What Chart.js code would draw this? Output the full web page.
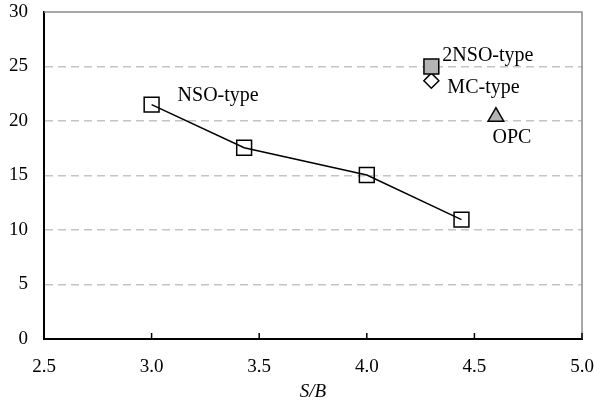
<!DOCTYPE html>
<html>
<head>
<meta charset="utf-8">
<script src="https://cdn.jsdelivr.net/npm/chart.js@4.4.1/dist/chart.umd.min.js"></script>
<style>
  html, body { margin: 0; padding: 0; background: #ffffff; }
  #wrap { width: 594px; height: 403px; position: relative; }
</style>
</head>
<body>
<div id="wrap"><canvas id="c" width="594" height="403"></canvas></div>
<script>
// ---- data ----
const seriesNames = ['NSO-type', '2NSO-type', 'MC-type', 'OPC'];
const nsoX = [3.0, 3.43, 4.0, 4.44];
const nsoY = [21.5, 17.55, 15.05, 10.95];
const nso2X = [4.3];
const nso2Y = [25.0];
const mcX = [4.3];
const mcY = [23.7];
const opcX = [4.6];
const opcY = [20.4];
const xTicks = [2.5, 3.0, 3.5, 4.0, 4.5, 5.0];
const yTicks = [0, 5, 10, 15, 20, 25, 30];
const xTitle = 'S/B';

const pts = (xs, ys) => xs.map((x, i) => ({ x: x, y: ys[i] }));

const FONT = "'Liberation Serif', 'Times New Roman', serif";

// label placement (pixel offsets from the anchor point)
const labelStyle = [
  { dx: 26, dy: -9, align: 'left' },
  { dx: 11, dy: -11, align: 'left' },
  { dx: 16, dy: 7, align: 'left' },
  { dx: 16, dy: 21, align: 'center' }
];

const framePlugin = {
  id: 'frame',
  beforeDatasetsDraw(chart) {
    const { ctx, chartArea: a } = chart;
    ctx.save();
    ctx.strokeStyle = '#8c8c8c';
    ctx.lineWidth = 1.5;
    ctx.beginPath();
    ctx.moveTo(a.left, a.top);
    ctx.lineTo(a.right, a.top);
    ctx.lineTo(a.right, a.bottom);
    ctx.stroke();
    ctx.restore();
  },
  afterDatasetsDraw(chart) {
    const { ctx, chartArea: a } = chart;
    const xs = chart.scales.x;
    ctx.save();
    // inward ticks on x axis
    ctx.strokeStyle = '#000';
    ctx.lineWidth = 1.5;
    xs.ticks.forEach(t => {
      const px = xs.getPixelForValue(t.value);
      ctx.beginPath();
      ctx.moveTo(px, a.bottom);
      ctx.lineTo(px, a.bottom - 6);
      ctx.stroke();
    });
    // series labels
    ctx.fillStyle = '#000';
    ctx.font = '20px ' + FONT;
    ctx.textBaseline = 'middle';
    chart.data.datasets.forEach((ds, i) => {
      const meta = chart.getDatasetMeta(i);
      const el = meta.data[0];
      const st = labelStyle[i];
      ctx.textAlign = st.align;
      ctx.fillText(ds.label, el.x + st.dx, el.y + st.dy);
    });
    ctx.restore();
  }
};

new Chart(document.getElementById('c'), {
  type: 'scatter',
  data: {
    datasets: [
      {
        label: seriesNames[0],
        data: pts(nsoX, nsoY),
        showLine: true,
        borderColor: '#000',
        borderWidth: 1.5,
        pointStyle: 'rect',
        pointRadius: 10.5,
        pointBorderWidth: 1.5,
        pointBorderColor: '#000',
        pointBackgroundColor: 'rgba(0,0,0,0)',
        order: 2
      },
      {
        label: seriesNames[1],
        data: pts(nso2X, nso2Y),
        pointStyle: 'rect',
        pointRadius: 10.5,
        pointBorderWidth: 1.5,
        pointBorderColor: '#000',
        pointBackgroundColor: '#b4b4b4',
        order: 0
      },
      {
        label: seriesNames[2],
        data: pts(mcX, mcY),
        pointStyle: 'rectRot',
        pointRadius: 7.5,
        pointBorderWidth: 1.5,
        pointBorderColor: '#000',
        pointBackgroundColor: '#fff',
        order: 1
      },
      {
        label: seriesNames[3],
        data: pts(opcX, opcY),
        pointStyle: 'triangle',
        pointRadius: 9,
        pointBorderWidth: 1.5,
        pointBorderColor: '#000',
        pointBackgroundColor: '#b4b4b4',
        order: 3
      }
    ]
  },
  options: {
    responsive: false,
    animation: false,
    layout: { padding: { top: 11, right: 10, bottom: 0, left: 0 } },
    plugins: {
      legend: { display: false },
      tooltip: { enabled: false }
    },
    scales: {
      x: {
        type: 'linear',
        min: xTicks[0],
        max: xTicks[xTicks.length - 1],
        afterBuildTicks(scale) { scale.ticks = xTicks.map(v => ({ value: v })); },
        afterFit(scale) { scale.height = 64; scale.paddingLeft = 0; scale.paddingRight = 0; },
        grid: { display: false, drawTicks: false },
        border: { display: true, color: '#000', width: 2 },
        ticks: {
          padding: 17,
          color: '#000',
          font: { family: FONT, size: 19 },
          callback: v => Number(v).toFixed(1)
        },
        title: {
          display: true,
          text: xTitle,
          color: '#000',
          font: { family: FONT, size: 19, style: 'italic' },
          padding: { top: 2, bottom: 0 }
        }
      },
      y: {
        type: 'linear',
        min: yTicks[0],
        max: yTicks[yTicks.length - 1],
        afterBuildTicks(scale) { scale.ticks = yTicks.map(v => ({ value: v })); },
        afterFit(scale) { scale.width = 44; scale.paddingTop = 0; scale.paddingBottom = 0; },
        grid: {
          drawTicks: false,
          lineWidth: 1.5,
          color: c => (c.tick && (c.tick.value === 0 || c.tick.value === 30)) ? 'rgba(0,0,0,0)' : '#c4c4c4'
        },
        border: { display: true, color: '#000', width: 2, dash: [8, 5] },
        ticks: {
          padding: 16,
          color: '#000',
          font: { family: FONT, size: 19 },
          callback: v => String(v)
        }
      }
    }
  },
  plugins: [framePlugin]
});
</script>
</body>
</html>
